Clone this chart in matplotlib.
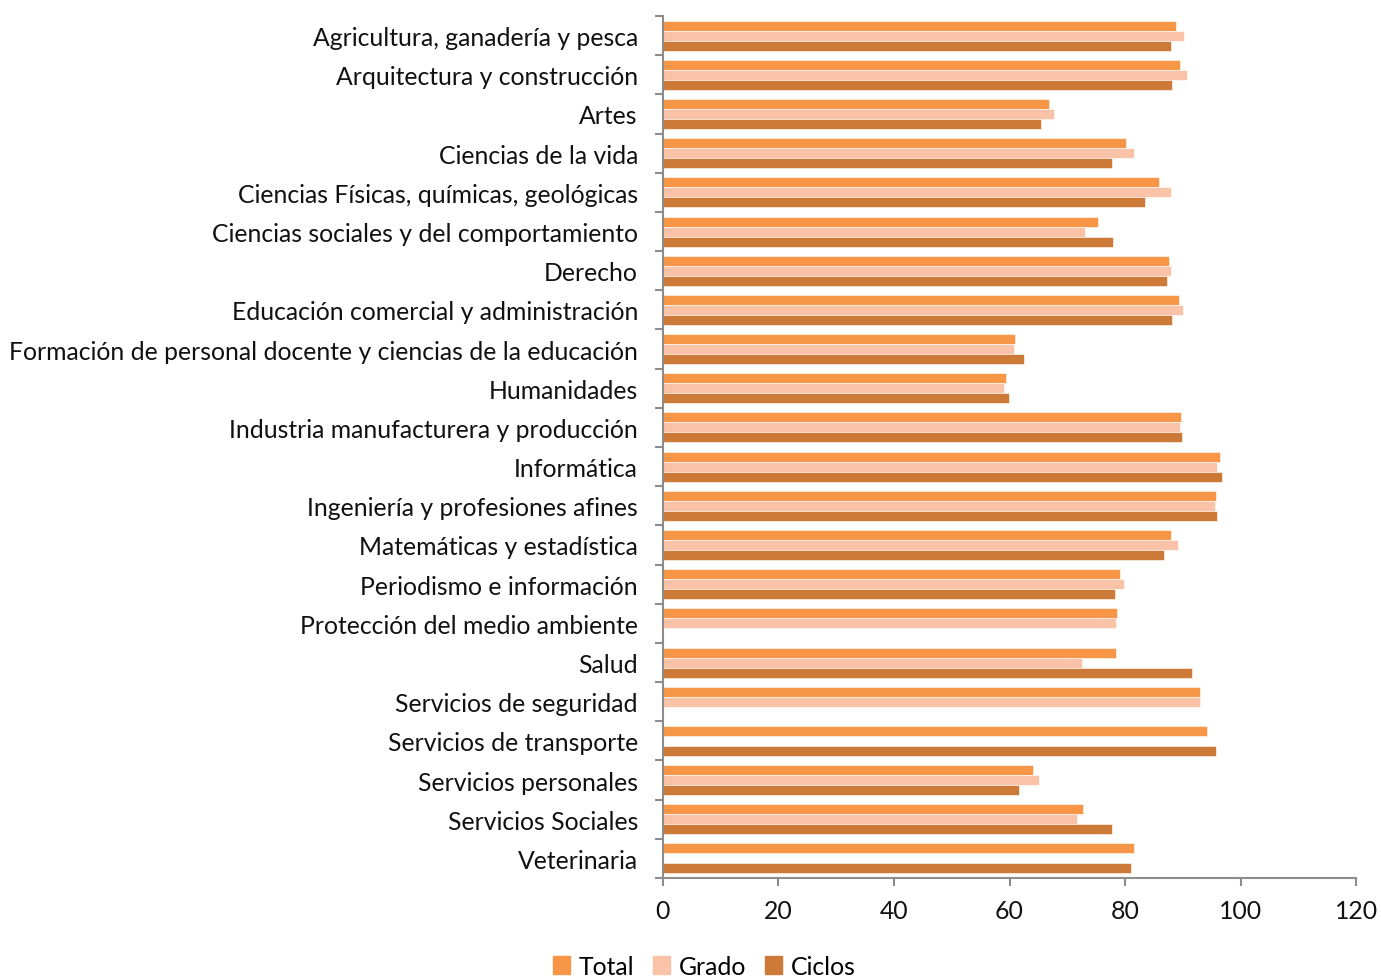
import numpy as np
import matplotlib.pyplot as plt
from matplotlib.patches import Patch

categorias = [
    'Agricultura, ganadería y pesca',
    'Arquitectura y construcción',
    'Artes',
    'Ciencias de la vida',
    'Ciencias Físicas, químicas, geológicas',
    'Ciencias sociales y del comportamiento',
    'Derecho',
    'Educación comercial y administración',
    'Formación de personal docente y ciencias de la educación',
    'Humanidades',
    'Industria manufacturera y producción',
    'Informática',
    'Ingeniería y profesiones afines',
    'Matemáticas y estadística',
    'Periodismo e información',
    'Protección del medio ambiente',
    'Salud',
    'Servicios de seguridad',
    'Servicios de transporte',
    'Servicios personales',
    'Servicios Sociales',
    'Veterinaria',
]

total = [88.9, 89.5, 66.9, 80.1, 85.9, 75.3, 87.6, 89.3, 61.0, 59.4, 89.6,
         96.5, 95.7, 88.0, 79.1, 78.6, 78.4, 92.9, 94.2, 64.0, 72.7, 81.6]
grado = [90.2, 90.8, 67.7, 81.5, 88.0, 73.1, 88.0, 90.1, 60.7, 59.0, 89.5,
         96.0, 95.6, 89.2, 79.9, 78.5, 72.5, 92.9, np.nan, 65.1, 71.7, np.nan]
ciclos = [88.0, 88.2, 65.4, 77.8, 83.5, 77.9, 87.3, 88.2, 62.5, 59.9, 89.8,
          96.8, 96.0, 86.7, 78.2, np.nan, 91.6, np.nan, 95.8, 61.6, 77.7, 81.0]

col_total = '#F79646'
col_grado = '#FAC3A8'
col_ciclos = '#CD7A38'

plt.rcParams['font.family'] = ['Lato', 'DejaVu Sans']
fs = 17.8

fig = plt.figure(figsize=(13.81, 9.78), dpi=100)
ax = fig.add_axes([0.480, 0.1012, 0.502, 0.8814])

y = np.arange(len(categorias))
h = 0.255
ax.barh(y - h, total, height=h, color=col_total, edgecolor='white', linewidth=0.4)
ax.barh(y, grado, height=h, color=col_grado, edgecolor='white', linewidth=0.4)
ax.barh(y + h, ciclos, height=h, color=col_ciclos, edgecolor='white', linewidth=0.4)

ax.set_ylim(len(categorias) - 0.5, -0.5)
ax.set_xlim(0, 120)
ax.set_xticks(range(0, 121, 20))

ax.set_yticks(y)
ax.set_yticklabels(categorias)
ax.set_yticks(np.arange(-0.5, len(categorias), 1), minor=True)
ax.tick_params(axis='y', which='major', length=0, pad=18, labelsize=fs, labelcolor='#111111')
ax.tick_params(axis='y', which='minor', length=6, width=1.5, color='#8c8c8c')
ax.tick_params(axis='x', length=6, width=1.5, color='#8c8c8c', labelsize=fs, pad=9,
               labelcolor='#111111')

for s in ['top', 'right']:
    ax.spines[s].set_visible(False)
for s in ['left', 'bottom']:
    ax.spines[s].set_color('#8c8c8c')
    ax.spines[s].set_linewidth(1.5)

handles = [Patch(color=col_total, label='Total'),
           Patch(color=col_grado, label='Grado'),
           Patch(color=col_ciclos, label='Ciclos')]
fig.legend(handles=handles, loc='center', bbox_to_anchor=(0.51, 0.011), ncol=3,
           frameon=False, fontsize=fs, handlelength=0.7, handleheight=0.7,
           handletextpad=0.35, columnspacing=0.75, borderpad=0.0)

fig.savefig('out.png', dpi=100)
